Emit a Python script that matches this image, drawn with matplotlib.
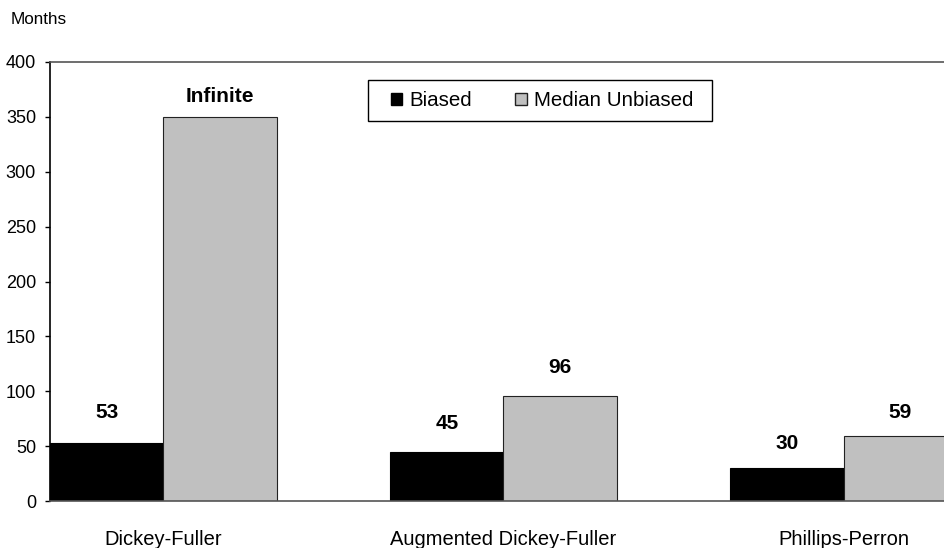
import matplotlib
matplotlib.use("Agg")
import matplotlib.pyplot as plt
from matplotlib.patches import Patch, Rectangle
import numpy as np

plt.rcParams['font.family'] = ['Liberation Sans', 'DejaVu Sans']

categories = ["Dickey-Fuller", "Augmented Dickey-Fuller", "Phillips-Perron"]
biased = [53, 45, 30]
median_unbiased = [350, 96, 59]
biased_labels = ["53", "45", "30"]
unbiased_labels = ["Infinite", "96", "59"]
yticks = [0, 50, 100, 150, 200, 250, 300, 350, 400]

# distance (pixels) from bar top to the centre of its value label
biased_label_gap = [30, 28, 25]
unbiased_label_gap = [20, 28, 24]

W, H = 945, 548
fig = plt.figure(figsize=(W / 100, H / 100), dpi=100)
ax = fig.add_axes([50 / W, 47 / H, 907 / W, 439 / H])

x = np.arange(len(categories))
w = 1 / 3
b1 = ax.bar(x - w / 2, biased, w, color="black", edgecolor="black", linewidth=0.8)
b2 = ax.bar(x + w / 2, median_unbiased, w, color="#C0C0C0", edgecolor="#222222", linewidth=0.8)

for bars, labels, gaps in ((b1, biased_labels, biased_label_gap),
                           (b2, unbiased_labels, unbiased_label_gap)):
    for rect, lab, gap in zip(bars, labels, gaps):
        ax.annotate(lab, (rect.get_x() + rect.get_width() / 2, rect.get_height()),
                    xytext=(0, gap), textcoords="offset pixels", ha="center", va="center",
                    fontsize=15, fontweight="bold")

ax.set_xlim(-w, 2 + w)
ax.set_ylim(0, 400)
ax.set_yticks(yticks)
ax.set_xticks(x)
ax.set_xticklabels(categories, fontsize=14.5)
ax.tick_params(axis="x", length=0, pad=21)
ax.tick_params(axis="y", direction="out", length=3.6, width=1, labelsize=13, pad=6.5)

ax.spines["left"].set_color("black")
ax.spines["left"].set_linewidth(1.2)
for s in ["top", "bottom", "right"]:
    ax.spines[s].set_color("#555555")
    ax.spines[s].set_linewidth(1.2)

# legend box drawn as its own frame, entries centred inside it
box_x0, box_y0, box_x1, box_y1 = 368, 80, 712, 121
fig.add_artist(Rectangle((box_x0 / W, 1 - box_y1 / H), (box_x1 - box_x0) / W,
                         (box_y1 - box_y0) / H, transform=fig.transFigure,
                         facecolor="white", edgecolor="black", linewidth=1.0, zorder=4))
handles = [Patch(facecolor="black", edgecolor="black", label="Biased"),
           Patch(facecolor="#C0C0C0", edgecolor="#222222", label="Median Unbiased")]
leg = fig.legend(handles=handles, loc="center",
                 bbox_to_anchor=((box_x0 + box_x1) / 2 / W + 2 / W, 1 - (box_y0 + box_y1) / 2 / H),
                 ncol=2, fontsize=14.8, frameon=False,
                 handlelength=0.55, handleheight=0.55,
                 handletextpad=0.35, columnspacing=2.1, borderpad=0, borderaxespad=0)
leg.set_zorder(5)

fig.text(11 / W, 1 - 20 / H, "Months", fontsize=12.3, va="center", ha="left")

fig.savefig("out.png", dpi=100)
